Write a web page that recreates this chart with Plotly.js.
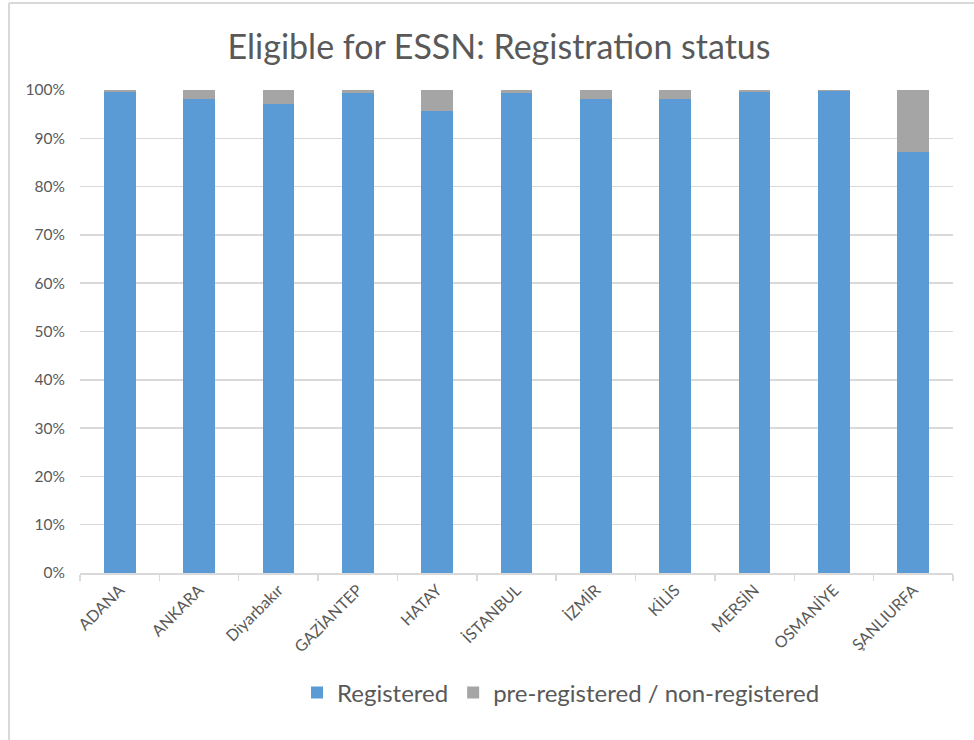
<!DOCTYPE html>
<html>
<head>
<meta charset="utf-8">
<script src="https://cdn.plot.ly/plotly-3.0.1.min.js"></script>
<style>html,body{margin:0;padding:0;background:#fff;} #chart{width:974px;height:740px;}</style>
</head>
<body>
<div id="chart"></div>
<script>
const categories = ["ADANA","ANKARA","Diyarbakır","GAZİANTEP","HATAY","İSTANBUL","İZMİR","KİLİS","MERSİN","OSMANİYE","ŞANLIURFA"];
const registered = [0.997, 0.981, 0.972, 0.993, 0.957, 0.994, 0.981, 0.981, 0.996, 0.999, 0.871];
const preRegistered = registered.map(v => 1 - v);
const yTickVals = [0,0.1,0.2,0.3,0.4,0.5,0.6,0.7,0.8,0.9,1.0];
const yTickText = ["0%","10%","20%","30%","40%","50%","60%","70%","80%","90%","100%"];

const fontFam = "Lato, 'Open Sans', sans-serif";
const textColor = "#595959";

const traces = [
  {type:"bar", name:"Registered", x:categories, y:registered,
   marker:{color:"#5b9bd5", line:{color:"#ffffff", width:0}}, hoverinfo:"x+y"},
  {type:"bar", name:"pre-registered / non-registered", x:categories, y:preRegistered,
   marker:{color:"#a5a5a5", line:{color:"#ffffff", width:0}}, hoverinfo:"x+y"}
];

const layout = {
  width:974, height:740,
  barmode:"stack", bargap:0.6,
  paper_bgcolor:"#ffffff", plot_bgcolor:"#ffffff",
  margin:{l:80, r:21, t:90, b:167},
  font:{family:fontFam, color:textColor},
  title:{text:"Eligible for ESSN: Registration status", font:{size:34, color:textColor, family:fontFam},
         x:0.48, xref:"paper", xanchor:"center", y:0.936, yref:"container", yanchor:"middle"},
  xaxis:{type:"category", tickangle:-45, tickfont:{size:16, color:textColor},
         showline:true, linecolor:"#d9d9d9", linewidth:1.5,
         ticks:"outside", tickson:"boundaries", ticklen:6, tickcolor:"#d9d9d9", tickwidth:1.5,
         showgrid:false, zeroline:false, fixedrange:true},
  yaxis:{range:[0,1.0001], tickvals:yTickVals, ticktext:yTickText, tickfont:{size:15.5, color:textColor},
         showgrid:true, gridcolor:"#d9d9d9", gridwidth:1.5, zeroline:false, showline:false,
         ticks:"", ticklabelstandoff:14, fixedrange:true},
  showlegend:true,
  legend:{orientation:"h", x:0.551, xanchor:"center", y:-0.248, yanchor:"middle",
          font:{size:24, color:textColor}, itemwidth:30, traceorder:"normal"},
  shapes:[
    {type:"line", xref:"paper", yref:"paper", x0:-0.0813, x1:1.03, y0:1.180, y1:1.180, line:{color:"#d9d9d9", width:2}},
    {type:"line", xref:"paper", yref:"paper", x0:-0.0813, x1:-0.0813, y0:1.180, y1:-0.35, line:{color:"#d9d9d9", width:2}}
  ]
};

Plotly.newPlot("chart", traces, layout, {displayModeBar:false, staticPlot:true});
</script>
</body>
</html>
